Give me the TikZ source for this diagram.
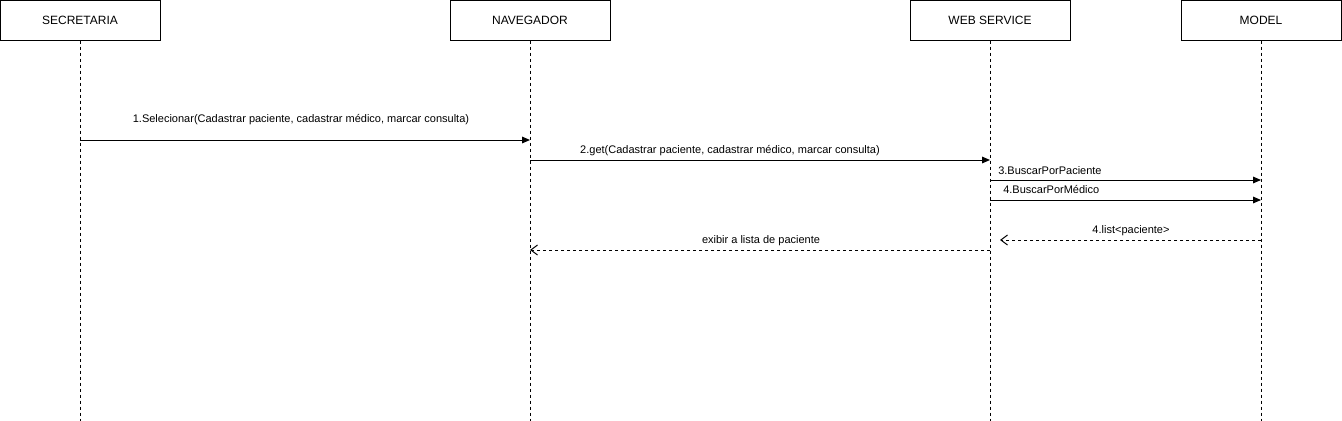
\documentclass[tikz,border=0pt]{standalone}
\usepackage{fontspec}
\setmainfont{Liberation Sans}
\usetikzlibrary{arrows.meta}
\begin{document}
\begin{tikzpicture}[x=0.75pt,y=-0.75pt,
  actor/.style={draw,line width=0.75pt,minimum width=120pt,minimum height=30pt,inner sep=0pt,font=\fontsize{9}{11}\selectfont},
  lifeline/.style={line width=0.75pt,dash pattern=on 2.25pt off 2.25pt},
  msg/.style={line width=0.75pt,-{Triangle[length=6pt,width=5pt]}},
  ret/.style={line width=0.75pt,dash pattern=on 2.25pt off 2.25pt,-{Straight Barb[length=5pt,width=7.5pt,line width=0.75pt]}},
  lbl/.style={font=\fontsize{8.25}{10}\selectfont,inner sep=0pt}]
\useasboundingbox (0,0) rectangle (1342,421);
\node[actor] (sec) at (80,20) {SECRETARIA};
\node[actor] (nav) at (530,20) {NAVEGADOR};
\node[actor] (ws) at (990,20) {WEB SERVICE};
\node[actor] (mod) at (1261,20) {MODEL};
\coordinate (secE) at (80,421);
\coordinate (navE) at (530,421);
\coordinate (wsE) at (990,421);
\coordinate (modE) at (1261,421);
\draw[lifeline] (sec.south) -- (secE);
\draw[lifeline] (nav.south) -- (navE);
\draw[lifeline] (ws.south) -- (wsE);
\draw[lifeline] (mod.south) -- (modE);
% message points
\coordinate (s1) at (80,140); \coordinate (n1) at (530,140);
\coordinate (n2) at (530,160); \coordinate (w2) at (990,160);
\coordinate (w3) at (990,180); \coordinate (m3) at (1261,180);
\coordinate (w4) at (990,200); \coordinate (m4) at (1261,200);
\coordinate (m5) at (1261,240); \coordinate (w5) at (1000,240);
\coordinate (w6) at (990,250); \coordinate (n6) at (530,250);
\draw[msg] (s1) -- (n1);
\node[lbl] (l1) at (301,120) {1.Selecionar(Cadastrar paciente, cadastrar médico, marcar consulta)};
\draw[msg] (n2) -- (w2);
\node[lbl] (l2) at (730,151) {2.get(Cadastrar paciente, cadastrar médico, marcar consulta)};
\draw[msg] (w3) -- (m3);
\node[lbl,anchor=west] (l3) at (998,171) {3.BuscarPorPaciente};
\draw[msg] (w4) -- (m4);
\node[lbl,anchor=west] (l4) at (1003,190) {4.BuscarPorMédico};
\draw[ret] (m5) -- (w5);
\node[lbl] (l5) at (1131,231) {4.list<paciente>};
\draw[ret] (w6) -- (n6);
\node[lbl] (l6) at (761,241) {exibir a lista de paciente};
\end{tikzpicture}
\end{document}
